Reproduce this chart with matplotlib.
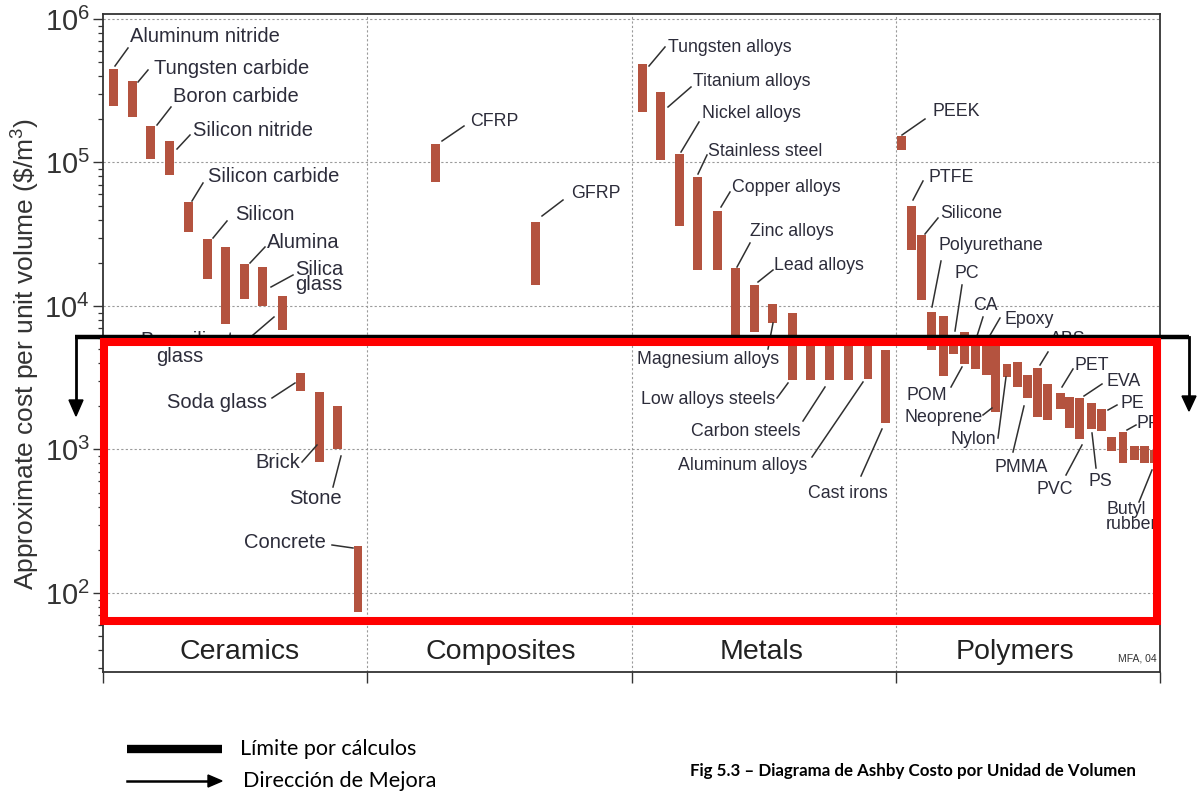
import matplotlib
matplotlib.use("Agg")
import matplotlib.pyplot as plt
from matplotlib.lines import Line2D
from matplotlib.patches import Rectangle, Polygon
from matplotlib.transforms import Affine2D, blended_transform_factory
from matplotlib.ticker import LogLocator, NullFormatter, FixedLocator

plt.rcParams['font.family'] = ['Liberation Sans', 'DejaVu Sans']
plt.rcParams['mathtext.fontset'] = 'custom'
plt.rcParams['mathtext.rm'] = 'Liberation Sans'
plt.rcParams['mathtext.it'] = 'Liberation Sans:italic'
plt.rcParams['mathtext.bf'] = 'Liberation Sans:bold'

# --- data (cost per unit volume, $/m3) ---
categories = ['Ceramics', 'Composites', 'Metals', 'Polymers']

ceramics = ['Aluminum nitride', 'Tungsten carbide', 'Boron carbide', 'Silicon nitride',
            'Silicon carbide', 'Silicon', '', 'Alumina', 'Silica glass', 'Borosilicate glass',
            'Soda glass', 'Brick', 'Stone', 'Concrete']
cer_x = [0.038, 0.110, 0.178, 0.250, 0.322, 0.394, 0.462, 0.537, 0.605, 0.681, 0.749, 0.821, 0.889, 0.965]
cer_lo = [2.48e5, 2.09e5, 1.05e5, 8.15e4, 3.3e4, 1.54e4, 7.5e3, 1.12e4, 1.0e4, 6.8e3, 2.56e3, 820, 1.01e3, 74]
cer_hi = [4.48e5, 3.72e5, 1.80e5, 1.42e5, 5.33e4, 2.92e4, 2.59e4, 1.96e4, 1.86e4, 1.17e4, 3.40e3, 2.52e3, 2.01e3, 214]

composites = ['CFRP', 'GFRP']
comp_x = [1.260, 1.635]
comp_lo = [7.3e4, 1.41e4]
comp_hi = [1.34e5, 3.87e4]

metals = ['Tungsten alloys', 'Titanium alloys', 'Nickel alloys', 'Stainless steel', 'Copper alloys',
          'Zinc alloys', 'Lead alloys', 'Magnesium alloys', 'Low alloys steels', '', 'Carbon steels',
          '', 'Aluminum alloys', 'Cast irons']
met_x = [2.040, 2.108, 2.180, 2.248, 2.324, 2.392, 2.464, 2.535, 2.611, 2.679, 2.751, 2.823, 2.895, 2.963]
met_lo = [2.26e5, 1.04e5, 3.6e4, 1.78e4, 1.78e4, 5.98e3, 6.62e3, 7.65e3, 3.05e3, 3.05e3, 3.05e3, 3.05e3, 3.1e3, 1.52e3]
met_hi = [4.83e5, 3.08e5, 1.14e5, 7.96e4, 4.59e4, 1.83e4, 1.39e4, 1.03e4, 8.9e3, 5.9e3, 5.9e3, 5.9e3, 5.9e3, 4.9e3]

polymers = ['PEEK', 'PTFE', 'Silicone', 'Polyurethane', '', 'PC', 'POM', 'CA', 'Epoxy', 'Neoprene',
            'Nylon', '', 'PMMA', 'ABS', '', 'PET', '', 'EVA', 'PS', 'PE', '', 'PP', '', '', 'Butyl rubber']
pol_x = [3.020, 3.058, 3.099, 3.137, 3.179, 3.220, 3.262, 3.300, 3.342, 3.379, 3.421, 3.459, 3.500,
         3.538, 3.576, 3.622, 3.659, 3.697, 3.739, 3.777, 3.818, 3.860, 3.902, 3.943, 3.981]
pol_lo = [1.22e5, 2.44e4, 1.10e4, 4.9e3, 3.25e3, 4.63e3, 3.95e3, 3.64e3, 3.3e3, 1.83e3, 3.2e3, 2.73e3, 2.29e3,
          1.68e3, 1.61e3, 1.92e3, 1.41e3, 1.18e3, 1.39e3, 1.35e3, 977, 805, 845, 805, 805]
pol_hi = [1.53e5, 5.0e4, 3.12e4, 9.04e3, 8.5e3, 6.1e3, 6.55e3, 6.1e3, 6.1e3, 6.1e3, 3.95e3, 4.07e3, 3.3e3,
          3.70e3, 2.86e3, 2.48e3, 2.32e3, 2.29e3, 2.11e3, 1.92e3, 1.22e3, 1.32e3, 1.06e3, 1.06e3, 993]

# --- figure ---
W, H = 1200, 795
fig = plt.figure(figsize=(W / 100, H / 100), dpi=100)
ax = fig.add_axes([103 / W, 1 - 672 / H, 1057 / W, 658 / H])
pix = Affine2D().scale(1, -1).translate(0, H)   # pixel coords from top-left

bar_col = '#b4533f'
txt_col = '#2c2c3a'
for xs, lo, hi in [(cer_x, cer_lo, cer_hi), (comp_x, comp_lo, comp_hi),
                   (met_x, met_lo, met_hi), (pol_x, pol_lo, pol_hi)]:
    ax.bar(xs, [h - l for l, h in zip(lo, hi)], bottom=lo, width=0.034,
           color=bar_col, edgecolor='none', zorder=3)

ax.set_yscale('log')
ax.set_ylim(28.15, 1.083e6)
ax.set_xlim(0, 4)
ax.yaxis.set_major_locator(FixedLocator([1e2, 1e3, 1e4, 1e5, 1e6]))
ax.yaxis.set_minor_locator(LogLocator(base=10, subs=range(2, 10), numticks=20))
ax.yaxis.set_minor_formatter(NullFormatter())
ax.set_yticklabels([r'$\mathregular{10^{%d}}$' % k for k in range(2, 7)])
ax.set_xticks([0, 1, 2, 3, 4])
ax.set_xticklabels([])
ax.tick_params(axis='y', which='major', direction='out', length=7.5, width=1, pad=2,
               labelsize=21, colors='#333333')
ax.tick_params(axis='y', which='minor', direction='out', length=3.8, width=0.9, colors='#333333')
ax.tick_params(axis='x', direction='out', length=8, width=1, colors='#333333')
for s in ax.spines.values():
    s.set_color('#333333')
    s.set_linewidth(1.3)

for d in [1e2, 1e3, 1e4, 1e5, 1e6]:
    ax.axhline(d, color='#9a9a9a', lw=0.8, ls=(0, (2, 2)), zorder=1)
for c in [1, 2, 3]:
    ax.axvline(c, color='#9a9a9a', lw=0.8, ls=(0, (2, 2)), zorder=1)

ax.set_ylabel(r'Approximate cost per unit volume (\$/m$^3$)', fontsize=19, color='#333333')
ax.yaxis.set_label_coords(-0.058, 0.483)

# category names, Polymers nudged left of the MFA note
cat_pos = [0.515, 1.506, 2.494, 3.451]
trans = blended_transform_factory(ax.transData, ax.transAxes)
for c, xc in zip(categories, cat_pos):
    ax.text(xc, 0.030, c, transform=trans, ha='center', va='center',
            fontsize=20.5, color='#222222')
ax.text(0.997, 0.013, 'MFA, 04', transform=ax.transAxes, ha='right', va='bottom',
        fontsize=7.5, color='#333333')

# --- labels with leader lines (pixel layout) ---
big, small = 14.5, 12.8
layout = [
    ('Aluminum nitride', 130, 37, big, (115, 66, 128, 48)),
    ('Tungsten carbide', 154, 68, big, (138, 82, 148, 70)),
    ('Boron carbide', 173, 97, big, (157, 125, 171, 107)),
    ('Silicon nitride', 193, 131, big, (177, 149, 190, 135)),
    ('Silicon carbide', 208, 177, big, (192, 201, 203, 183)),
    ('Silicon', 235, 214, big, (213, 238, 227, 221)),
    ('Alumina', 267, 243, big, (250, 263, 265, 247)),
    ('Borosilicate', 140, 340, big, (253, 335, 274, 317)),
    ('glass', 156, 357, big, None),
    ('Soda glass', 167, 402, big, (272, 398, 295, 383)),
    ('Brick', 255, 463, big, (302, 462, 317, 445)),
    ('Stone', 289, 499, big, (333, 487, 341, 456)),
    ('Concrete', 244, 543, big, (332, 545, 353, 548)),
    ('CFRP', 470, 122, small, (442, 141, 464, 126)),
    ('GFRP', 571, 193, small, (542, 216, 563, 200)),
    ('Tungsten alloys', 668, 47, small, (649, 66, 665, 47)),
    ('Titanium alloys', 693, 81, small, (668, 107, 691, 87)),
    ('Nickel alloys', 702, 113, small, (681, 152, 699, 122)),
    ('Stainless steel', 708, 151, small, (698, 174, 707, 155)),
    ('Copper alloys', 732, 187, small, (721, 207, 730, 192)),
    ('Zinc alloys', 750, 232, small, (737, 267, 750, 243)),
    ('Lead alloys', 774, 266, small, (758, 282, 773, 270)),
    ('Magnesium alloys', 637, 360, small, (773, 323, 768, 349)),
    ('Low alloys steels', 641, 399, small, (777, 398, 788, 383)),
    ('Carbon steels', 691, 432, small, (803, 421, 825, 387)),
    ('Aluminum alloys', 678, 466, small, (812, 457, 863, 382)),
    ('Cast irons', 808, 494, small, (861, 476, 882, 429)),
    ('PEEK', 933, 111, small, (902, 135, 925, 119)),
    ('PTFE', 928, 177, small, (913, 200, 923, 181)),
    ('Silicone', 940, 213, small, (925, 234, 938, 218)),
    ('Polyurethane', 939, 246, small, (932, 307, 941, 261)),
    ('PC', 954, 273, small, (955, 331, 962, 285)),
    ('CA', 973, 305, small, (977, 336, 983, 317)),
    ('Epoxy', 1005, 319, small, (989, 337, 1000, 318)),
    ('ABS', 1050, 340, small, (1040, 365, 1048, 352)),
    ('POM', 907, 395, small, (951, 387, 962, 367)),
    ('Neoprene', 905, 417, small, (983, 415, 992, 408)),
    ('Nylon', 951, 440, small, (998, 438, 1006, 377)),
    ('PMMA', 995, 467, small, (1013, 452, 1024, 406)),
    ('PET', 1075, 365, small, (1062, 387, 1073, 369)),
    ('EVA', 1107, 382, small, (1084, 396, 1102, 384)),
    ('PE', 1120, 404, small, (1108, 410, 1117, 405)),
    ('PP', 1137, 423, small, (1127, 430, 1136, 425)),
    ('PVC', 1037, 490, small, (1066, 475, 1082, 445)),
    ('PS', 1088, 482, small, (1096, 468, 1092, 433)),
]
for name, tx, ty, fs, ld in layout:
    fig.text(tx, ty, name, transform=pix, ha='left', va='center', fontsize=fs,
             color=txt_col, zorder=3)
    if ld:
        fig.add_artist(Line2D([ld[0], ld[2]], [ld[1], ld[3]], transform=pix,
                              color='#303030', lw=1.1, zorder=3))

# two-line labels
fig.text(295, 277, 'Silica\nglass', transform=pix, ha='left', va='center', fontsize=big,
         color=txt_col, linespacing=0.72, multialignment='center', zorder=3)
fig.add_artist(Line2D([271, 293], [287, 275], transform=pix, color='#303030', lw=1.1, zorder=3))
fig.text(1106, 517, 'Butyl\nrubber', transform=pix, ha='left', va='center', fontsize=small,
         color=txt_col, linespacing=0.78, multialignment='left', zorder=3)
fig.add_artist(Line2D([1139, 1152], [502, 470], transform=pix, color='#303030', lw=1.1, zorder=3))

# --- overlays: calculation limit and improvement direction ---
fig.add_artist(Line2D([75, 1189], [337, 337], transform=pix, color='black', lw=3.2,
                      solid_capstyle='butt', zorder=5))
fig.add_artist(Line2D([76, 76], [337, 402], transform=pix, color='black', lw=2.0, zorder=5))
fig.add_artist(Line2D([1189, 1189], [337, 398], transform=pix, color='black', lw=2.0, zorder=5))
fig.add_artist(Polygon([(69, 400), (83, 400), (76, 416)], closed=True, transform=pix,
                       color='black', zorder=5))
fig.add_artist(Polygon([(1182, 396), (1196, 396), (1189, 411)], closed=True, transform=pix,
                       color='black', zorder=5))
fig.add_artist(Rectangle((104, 341.5), 1053, 279, transform=pix, fill=False,
                         edgecolor='#ff0000', lw=5.8, joinstyle='miter', zorder=6))

# --- bottom legend and caption ---
fig.add_artist(Line2D([127, 222], [749, 749], transform=pix, color='black', lw=6,
                      solid_capstyle='butt', zorder=5))
fig.add_artist(Line2D([127, 210], [781, 781], transform=pix, color='black', lw=1.8, zorder=5))
fig.add_artist(Polygon([(208, 775), (222, 781), (208, 787)], closed=True, transform=pix,
                       color='black', zorder=5))
fig.text(240, 749, 'Límite por cálculos', transform=pix, ha='left', va='center',
         fontsize=15.5, family='Lato', color='black')
fig.text(243, 781, 'Dirección de Mejora', transform=pix, ha='left', va='center',
         fontsize=15.6, family='Lato', color='black')
fig.text(690, 771, 'Fig 5.3 – Diagrama de Ashby Costo por Unidad de Volumen', transform=pix,
         ha='left', va='center', fontsize=12.2, family='Lato', weight='bold', color='black')

fig.savefig('out.png', dpi=100)
